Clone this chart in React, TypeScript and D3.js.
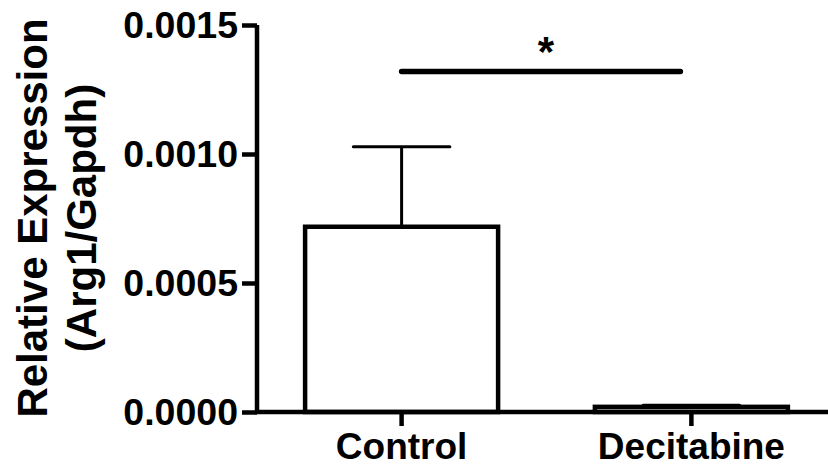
import React, { useEffect, useRef } from 'react';
import * as d3 from 'd3';

const categories = ['Control', 'Decitabine'];
const means = [0.000718, 0.00002];
const errors = [0.00031, 0.000006];
const yTicks = [0, 0.0005, 0.001, 0.0015];
const sigLabel = '*';

const App = () => {
  const ref = useRef<SVGSVGElement | null>(null);

  useEffect(() => {
    const svg = d3.select(ref.current);
    svg.selectAll('*').remove();

    const width = 828;
    const height = 468;
    const margin = { top: 25, right: 0, bottom: 56, left: 257 };
    const font = '"Liberation Sans", Arial, sans-serif';

    const x = d3
      .scaleBand()
      .domain(categories)
      .range([margin.left, 836])
      .paddingInner(0.334)
      .paddingOuter(0.166);
    const y = d3
      .scaleLinear()
      .domain([0, 0.0015])
      .range([height - margin.bottom, margin.top]);

    const g = svg.append('g');

    // bars
    g.selectAll('.bar')
      .data(categories)
      .enter()
      .append('rect')
      .attr('x', (d) => x(d)!)
      .attr('y', (d, i) => y(means[i]))
      .attr('width', x.bandwidth())
      .attr('height', (d, i) => y(0) - y(means[i]))
      .attr('fill', 'white')
      .attr('stroke', 'black')
      .attr('stroke-width', 4.5);

    // error bars
    const cap = x.bandwidth() / 4;
    categories.forEach((c, i) => {
      const cx = x(c)! + x.bandwidth() / 2;
      g.append('line')
        .attr('x1', cx)
        .attr('x2', cx)
        .attr('y1', y(means[i]))
        .attr('y2', y(means[i] + errors[i]))
        .attr('stroke', 'black')
        .attr('stroke-width', 3);
      g.append('line')
        .attr('x1', cx - cap)
        .attr('x2', cx + cap)
        .attr('y1', y(means[i] + errors[i]))
        .attr('y2', y(means[i] + errors[i]))
        .attr('stroke', 'black')
        .attr('stroke-width', 3)
        .attr('stroke-linecap', 'round');
    });

    // y axis
    const yAxis = d3
      .axisLeft(y)
      .tickValues(yTicks)
      .tickSize(15)
      .tickPadding(4)
      .tickFormat(d3.format('.4f') as any);
    const ya = g
      .append('g')
      .attr('transform', `translate(${margin.left},0)`)
      .call(yAxis);
    ya.select('.domain').attr('stroke-width', 4.5).attr('d', `M0,${y(0.0015)}V${y(0)}`);
    ya.selectAll('.tick line').attr('stroke-width', 4.5);
    ya.selectAll('.tick text')
      .attr('font-family', font)
      .attr('font-weight', 'bold')
      .attr('font-size', 37.5)
      .attr('fill', 'black');

    // x axis
    const xAxis = d3.axisBottom(x).tickSize(14).tickPadding(7);
    const xa = g
      .append('g')
      .attr('transform', `translate(0,${y(0)})`)
      .call(xAxis);
    xa.select('.domain').attr('stroke-width', 4.5).attr('d', `M${margin.left - 2},0H${width}`);
    xa.selectAll('.tick line').attr('stroke-width', 4.5);
    xa.selectAll('.tick text')
      .attr('font-family', font)
      .attr('font-weight', 'bold')
      .attr('font-size', 37)
      .attr('fill', 'black');

    // y label
    const yl = g
      .append('text')
      .attr('transform', `translate(0,${(height - 40) / 2 + 4}) rotate(-90)`)
      .attr('text-anchor', 'middle')
      .attr('font-family', font)
      .attr('font-weight', 'bold')
      .attr('font-size', 42)
      .attr('fill', 'black');
    yl.append('tspan').attr('x', 0).attr('y', 47).text('Relative Expression');
    yl.append('tspan').attr('x', 0).attr('y', 96).text('(Arg1/Gapdh)');

    // significance
    const x1 = x(categories[0])! + x.bandwidth() / 2;
    const x2 = x(categories[1])! + x.bandwidth() / 2 - 11;
    const sy = y(0.00132);
    g.append('line')
      .attr('x1', x1)
      .attr('x2', x2)
      .attr('y1', sy)
      .attr('y2', sy)
      .attr('stroke', 'black')
      .attr('stroke-width', 5.5)
      .attr('stroke-linecap', 'round');
    g.append('text')
      .attr('x', (x1 + x2) / 2 + 5)
      .attr('y', sy - 5)
      .attr('text-anchor', 'middle')
      .attr('font-family', font)
      .attr('font-weight', 'bold')
      .attr('font-size', 42)
      .text(sigLabel);
  }, []);

  return (
    <svg
      ref={ref}
      width={828}
      height={468}
      style={{ position: 'absolute', left: 0, top: 0, background: 'white' }}
    />
  );
};

export default App;
